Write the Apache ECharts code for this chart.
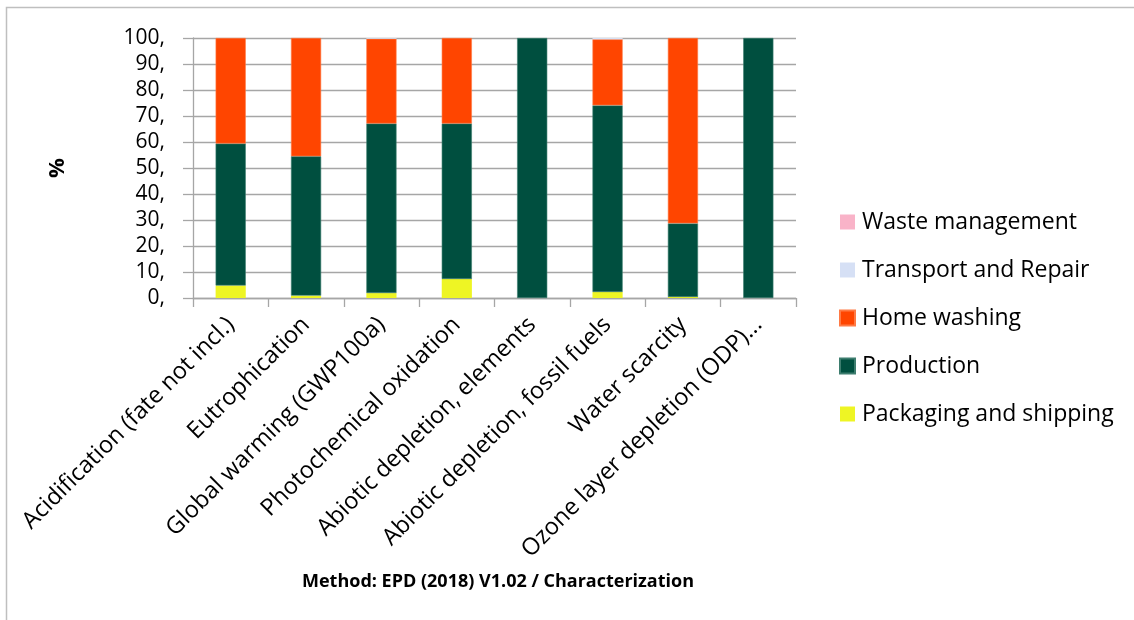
<!DOCTYPE html>
<html>
<head>
<meta charset="utf-8">
<script src="https://cdn.jsdelivr.net/npm/echarts@6/dist/echarts.min.js"></script>
<style>
  html, body { margin: 0; padding: 0; background: #fff; }
  #chart { width: 1134px; height: 620px; }
</style>
</head>
<body>
<div id="chart"></div>
<script>
// Impact categories (x axis)
const categories = [
  'Acidification (fate not incl.)',
  'Eutrophication',
  'Global warming (GWP100a)',
  'Photochemical oxidation',
  'Abiotic depletion, elements',
  'Abiotic depletion, fossil fuels',
  'Water scarcity',
  'Ozone layer depletion (ODP)...'
];

// Share of each life-cycle stage, in %
const packagingShipping = [4.8, 0.9, 1.9, 7.3, 0, 2.3, 0.4, 0];
const production        = [54.6, 53.6, 65.2, 59.8, 100, 71.8, 28.3, 100];
const homeWashing       = [40.6, 45.5, 32.6, 32.9, -0.7, 25.4, 71.3, -0.3];
const transportRepair   = [0, 0, 0.3, 0, 0, 0.5, 0, 0];
const wasteManagement   = [0, 0, 0, 0, 0, 0, 0, 0];

const yTicks = [0, 10, 20, 30, 40, 50, 60, 70, 80, 90, 100];

const FONT = '"Open Sans", Lato, sans-serif';
const AXIS_GREY = '#a6a6a6';

const chart = echarts.init(document.getElementById('chart'), null, { renderer: 'canvas' });

function barSeries(name, data, color, border) {
  return {
    name: name,
    type: 'bar',
    stack: 'total',
    barWidth: '40%',
    data: data,
    itemStyle: { color: color, borderColor: border || color, borderWidth: border ? 0.6 : 0 },
    emphasis: { disabled: true }
  };
}

chart.setOption({
  animation: false,
  backgroundColor: '#ffffff',
  textStyle: { fontFamily: FONT },
  title: {
    text: 'Method: EPD (2018) V1.02 / Characterization',
    left: 493,
    textAlign: 'center',
    top: 568,
    textStyle: { fontFamily: FONT, fontSize: 18, fontWeight: 'bold', color: '#000' }
  },
  graphic: [{
    type: 'rect',
    shape: { x: 6.5, y: 7.5, width: 1200, height: 700 },
    style: { fill: 'none', stroke: '#bfbfbf', lineWidth: 1.5 },
    silent: true,
    z: -1
  }],
  legend: {
    orient: 'vertical',
    left: 834,
    top: 205,
    icon: 'rect',
    itemWidth: 15,
    itemHeight: 15,
    itemGap: 24,
    data: ['Waste management', 'Transport and Repair', 'Home washing', 'Production', 'Packaging and shipping'],
    textStyle: { fontFamily: FONT, fontSize: 23, color: '#000', lineHeight: 24, padding: [0, 0, 0, 2] }
  },
  grid: { left: 193, right: 338, top: 38, bottom: 322, containLabel: false },
  xAxis: {
    type: 'category',
    data: categories,
    axisLine: { show: true, onZero: false, lineStyle: { color: AXIS_GREY, width: 1.3 } },
    axisTick: { show: true, length: 9, lineStyle: { color: AXIS_GREY, width: 1.3 } },
    axisLabel: { rotate: 45, fontFamily: FONT, fontSize: 23.5, color: '#000', margin: 23, interval: 0 }
  },
  yAxis: {
    type: 'value',
    min: yTicks[0],
    max: yTicks[yTicks.length - 1],
    interval: 10,
    name: '%',
    nameLocation: 'middle',
    nameRotate: 90,
    nameGap: 124,
    nameTextStyle: { fontFamily: FONT, fontSize: 22, fontWeight: 'bold', color: '#000' },
    axisLine: { show: true, lineStyle: { color: AXIS_GREY, width: 1.3 } },
    axisTick: { show: true, length: 10, lineStyle: { color: AXIS_GREY, width: 1.3 } },
    splitLine: { show: true, lineStyle: { color: AXIS_GREY, width: 1.3 } },
    axisLabel: {
      fontFamily: FONT, fontSize: 21, color: '#000', margin: 28,
      formatter: function (v) { return v + ','; }
    }
  },
  series: [
    barSeries('Packaging and shipping', packagingShipping, '#eef524'),
    barSeries('Production', production, '#004f3f', '#3d7d6e'),
    barSeries('Home washing', homeWashing, '#ff4500', '#ff7a45'),
    barSeries('Transport and Repair', transportRepair, '#d6e0f5'),
    barSeries('Waste management', wasteManagement, '#f9b3c8')
  ]
});
</script>
</body>
</html>
